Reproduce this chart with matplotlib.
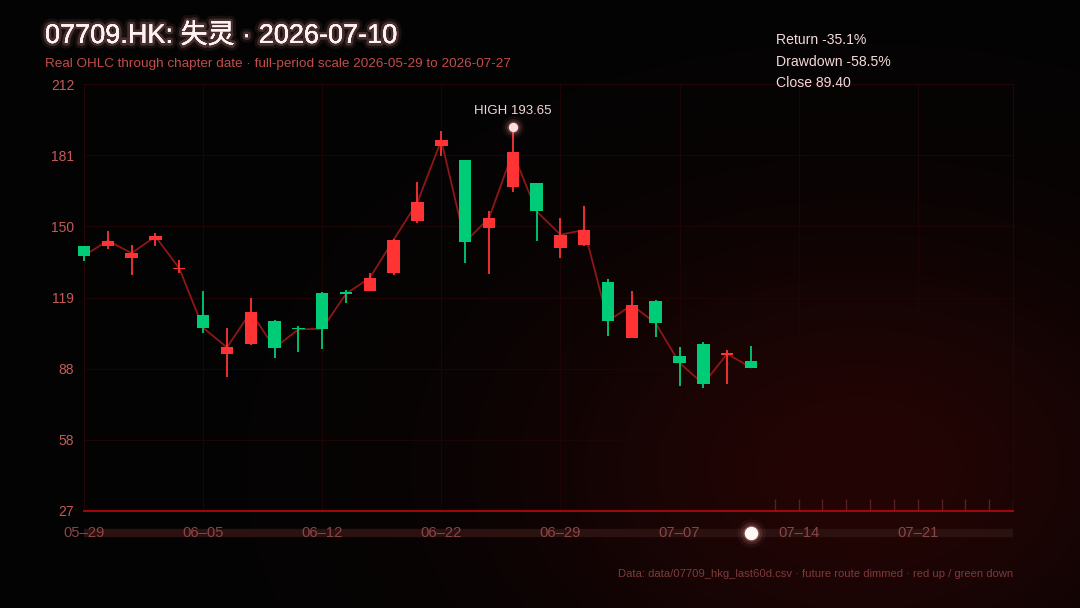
import numpy as np
import matplotlib
matplotlib.use('Agg')
import matplotlib.pyplot as plt
import matplotlib.patheffects as pe

plt.rcParams['font.family'] = ['Liberation Sans', 'Noto Sans CJK SC', 'DejaVu Sans']

#%% Data
ticker = '07709.HK'
chapter = '失灵'
chapter_date = '2026-07-10'
period_start = '2026-05-29'
period_end = '2026-07-27'
data_file = 'data/07709_hkg_last60d.csv'

# 40 trading sessions in the full period, label every 5th
n_days = 40
label_idx = [0, 5, 10, 15, 20, 25, 30, 35]
date_labels = ['05–29', '06–05', '06–12', '06–22', '06–29', '07–07', '07–14', '07–21']

# real OHLC through chapter date (29 sessions)
opens = [141.9, 141.8, 136.6, 144.4, 132.0, 112.3, 95.3, 99.5, 109.7, 106.2,
         121.7, 121.7, 122.7, 130.1, 152.8, 185.4, 179.0, 149.8, 167.4, 169.2,
         141.1, 142.4, 126.4, 102.3, 118.1, 94.5, 99.4, 94.9, 92.4]
highs = [142.2, 148.6, 142.5, 147.7, 136.1, 122.7, 106.3, 119.4, 109.9, 107.3,
         122.0, 123.0, 130.4, 145.0, 169.6, 191.6, 179.3, 157.3, 193.65, 169.4,
         154.0, 159.2, 127.8, 122.5, 118.5, 98.2, 100.5, 96.8, 98.5]
lows = [135.6, 140.9, 129.6, 142.1, 130.1, 104.2, 85.2, 99.3, 93.6, 96.2,
        97.6, 117.2, 122.5, 129.3, 152.1, 180.9, 134.7, 129.8, 165.2, 144.3,
        136.6, 142.1, 103.0, 102.2, 102.6, 81.6, 80.37, 82.3, 89.2]
closes = [137.75, 144.3, 138.9, 146.1, 132.3, 106.6, 98.1, 113.4, 97.9, 105.9,
          106.2, 121.3, 128.2, 144.7, 161.0, 187.7, 143.8, 154.0, 182.5, 157.0,
          146.9, 148.9, 109.5, 116.5, 108.5, 91.4, 82.3, 95.3, 89.40]

y_lo, y_hi = 27.3, 212.1

#%% Stats
o = np.array(opens); h = np.array(highs); l = np.array(lows); c = np.array(closes)
x = np.arange(len(c))
ret = c[-1] / c[0] - 1
i_hi = int(np.argmax(h))
drawdown = l[i_hi:].min() / h[i_hi] - 1

#%% Figure
RED = '#ff3333'
GREEN = '#00cc77'

fig = plt.figure(figsize=(10.8, 6.08), dpi=100, facecolor='#040303')

# background glow (bottom right)
bg = fig.add_axes([0, 0, 1, 1], zorder=0)
gx, gy = np.meshgrid(np.linspace(0, 1080, 270), np.linspace(0, 608, 152))
glow = np.exp(-(((gx - 860) / 330) ** 2 + ((gy - 470) / 230) ** 2))
img = np.zeros(gx.shape + (3,))
img[..., 0] = (4 + 32 * glow) / 255
img[..., 1] = (3 + 2 * glow) / 255
img[..., 2] = (3 + 2 * glow) / 255
bg.imshow(img, extent=[0, 1080, 608, 0], aspect='auto', interpolation='bilinear')
bg.set_xlim(0, 1080)
bg.set_ylim(608, 0)
bg.axis('off')

ax = fig.add_axes([84 / 1080, 1 - 511 / 608, 929 / 1080, 427 / 608], zorder=1)
ax.set_facecolor('none')
ax.set_xlim(0, n_days - 1)
ax.set_ylim(y_lo, y_hi)

yt = np.linspace(y_lo, y_hi, 7)
ax.set_yticks(yt)
ax.set_yticklabels([f'{int(v)}' for v in yt])
ax.set_xticks(label_idx)
ax.set_xticklabels(date_labels)
ax.tick_params(axis='y', length=0, pad=7, labelsize=10, labelcolor='#c45a58')
ax.tick_params(axis='x', length=0, pad=11, labelsize=10.6, labelcolor='#8a4646')
ax.grid(True, color='#1e0606', lw=0.7)
ax.set_axisbelow(True)
for s in ['top', 'left', 'right']:
    ax.spines[s].set_color('#220808')
    ax.spines[s].set_linewidth(0.7)
ax.spines['bottom'].set_color('#b00808')
ax.spines['bottom'].set_linewidth(1.3)

# close route
ax.plot(x, c, color='#8e1616', lw=1.3, zorder=2)

# candles
for i in range(len(c)):
    col = RED if c[i] >= o[i] else GREEN
    ax.vlines(i, l[i], h[i], color=col, lw=1.3, zorder=3, clip_on=False)
    bot = min(o[i], c[i])
    ht = max(abs(c[i] - o[i]), 0.6)
    ax.bar(i, ht, bottom=bot, width=0.52, color=col, zorder=4, clip_on=False)

# high marker
for s, a in [(260, 0.06), (150, 0.12), (80, 0.25)]:
    ax.scatter(i_hi, h[i_hi], s=s, color='#ff9090', alpha=a, lw=0, zorder=5)
ax.scatter(i_hi, h[i_hi], s=45, color='#ffe0e0', lw=0, zorder=6)
ax.annotate(f'HIGH {h[i_hi]:.2f}', (i_hi, h[i_hi]), xytext=(0, 7),
            textcoords='offset points', ha='center', va='bottom',
            fontsize=9.5, color='#f3d6d6', zorder=6)

# future sessions ticks
fut = np.arange(len(c), n_days)
ax.vlines(fut, y_lo, y_lo + 5.2, color='#552222', lw=1.0, zorder=2)

# timeline bar under the axis
tr = ax.get_xaxis_transform()
bar_y = -(533 - 511) / 427
ax.plot([0, n_days - 1], [bar_y, bar_y], transform=tr, color='#2c1111', lw=6,
        solid_capstyle='butt', clip_on=False, zorder=0)
for s, a in [(420, 0.05), (250, 0.12), (140, 0.25)]:
    ax.scatter([len(c) - 1], [bar_y], transform=tr, s=s, color='#ffb0b0', alpha=a,
               lw=0, clip_on=False, zorder=5)
ax.scatter([len(c) - 1], [bar_y], transform=tr, s=95, color='#fff6f6', lw=0,
           clip_on=False, zorder=6)

#%% Text
fig.text(45 / 1080, 1 - 36 / 608, f'{ticker}: {chapter} · {chapter_date}',
         fontsize=19.5, color='#fff2f2', va='center', ha='left',
         path_effects=[pe.withStroke(linewidth=8, foreground=(1, 0.6, 0.6, 0.08)),
                       pe.withStroke(linewidth=4, foreground=(1, 0.7, 0.7, 0.20)),
                       pe.Normal()])
fig.text(45 / 1080, 1 - 64 / 608,
         f'Real OHLC through chapter date · full-period scale {period_start} to {period_end}',
         fontsize=9.7, color='#c24c4a', va='center', ha='left')

stats = [f'Return {ret * 100:.1f}%', f'Drawdown {drawdown * 100:.1f}%', f'Close {c[-1]:.2f}']
for k, t in enumerate(stats):
    fig.text(776 / 1080, 1 - (40 + 21.5 * k) / 608, t, fontsize=10.1,
             color='#f6d8d8', va='center', ha='left')

fig.text(1013 / 1080, 1 - 574 / 608,
         f'Data: {data_file} · future route dimmed · red up / green down',
         fontsize=8.1, color='#7e3a3a', va='center', ha='right')

fig.savefig('out.png', dpi=100, facecolor=fig.get_facecolor())
